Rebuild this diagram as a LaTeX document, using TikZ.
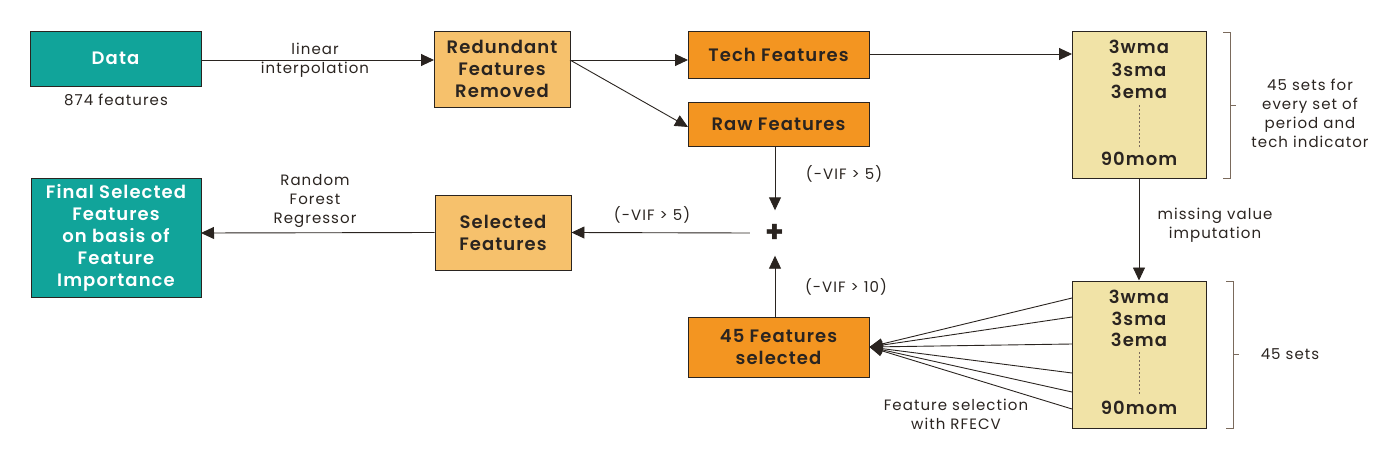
\documentclass[tikz,border=0pt]{standalone}
\usepackage{fontspec}
\setmainfont{Poppins}[LetterSpace=7]
\newfontfamily\boxfont{Poppins SemiBold}[LetterSpace=6]
\usetikzlibrary{arrows.meta,calc}
\definecolor{tealc}{HTML}{11A49A}
\definecolor{orng}{HTML}{F39521}
\definecolor{lorng}{HTML}{F6C16C}
\definecolor{lyel}{HTML}{F1E3A7}
\definecolor{txt}{HTML}{2A2420}
\definecolor{brk}{HTML}{7A6A5C}
\begin{document}
\begin{tikzpicture}[x=1pt,y=1pt,
  boxbase/.style={draw=txt,line width=0.9pt,align=center,inner sep=0pt,font=\boxfont\fontsize{18}{22}\selectfont},
  tealbox/.style={boxbase,fill=tealc,text=white},
  orbox/.style={boxbase,fill=orng,text=txt},
  lobox/.style={boxbase,fill=lorng,text=txt},
  setbox/.style={draw=txt,line width=1pt,fill=lyel,inner sep=0pt},
  settxt/.style={font=\boxfont\fontsize{18}{20}\selectfont,text=txt,inner sep=0pt},
  lbl/.style={font=\fontsize{15}{19}\selectfont,text=txt,align=center,inner sep=0pt},
  arrw/.style={draw=txt,line width=0.9pt,-{Triangle[length=13pt,width=12pt]}},
  fanline/.style={draw=txt,line width=0.9pt,-{Triangle[length=13pt,width=11pt]}},
  brline/.style={draw=brk,line width=0.6pt}
]
\useasboundingbox (0,0) rectangle (1400,-460);

% nodes
\node[tealbox,minimum width=171,minimum height=55] (data) at (115.5,-58.5) {Data};
\node[lbl] (n874) at (116,-100) {874 features};
\node[lobox,minimum width=136,minimum height=76] (red) at (502,-69) {Redundant\\Features\\Removed};
\node[orbox,minimum width=181,minimum height=47] (tech) at (778.5,-54.5) {Tech Features};
\node[orbox,minimum width=181,minimum height=44] (raw) at (778.5,-124) {Raw Features};

\node[setbox,minimum width=134,minimum height=146] (box1) at (1139,-105) {};
\node[settxt] (b1a) at (1139,-47) {3wma};
\node[settxt] (b1b) at (1139,-70) {3sma};
\node[settxt] (b1c) at (1139,-92) {3ema};
\node[settxt] (b1d) at (1139,-159) {90mom};
\coordinate (d1s) at (1139,-105);
\coordinate (d1e) at (1139,-147);
\draw[brline,dash pattern=on 2pt off 2pt] (d1s) -- (d1e);

\node[tealbox,minimum width=170,minimum height=119] (final) at (116,-237.5) {Final Selected\\Features\\on basis of\\Feature\\Importance};
\node[lobox,minimum width=136,minimum height=75] (sel) at (503,-232.5) {Selected\\Features};
\node[inner sep=0pt,minimum width=50,minimum height=45,font=\fontsize{30}{30}\selectfont\bfseries,text=txt] (plus) at (775,-233) {+};
\node[orbox,minimum width=181,minimum height=60] (f45) at (778.5,-347) {45 Features\\selected};

\node[setbox,minimum width=134,minimum height=147] (box2) at (1139,-354.5) {};
\node[settxt] (b2a) at (1139,-297) {3wma};
\node[settxt] (b2b) at (1139,-319) {3sma};
\node[settxt] (b2c) at (1139,-340) {3ema};
\node[settxt] (b2d) at (1139,-408) {90mom};
\coordinate (d2s) at (1139,-352);
\coordinate (d2e) at (1139,-395);
\draw[brline,dash pattern=on 2pt off 2pt] (d2s) -- (d2e);

% labels
\node[lbl] (lin) at (315,-60) {linear\\interpolation};
\node[lbl] (rfr) at (315,-201) {Random\\Forest\\Regressor};
\node[lbl] (vif1) at (844,-174) {(-VIF > 5)};
\node[lbl] (vif2) at (652,-215) {(-VIF > 5)};
\node[lbl] (vif3) at (846,-287) {(-VIF > 10)};
\node[lbl] (miss) at (1215,-225) {missing value\\imputation};
\node[lbl] (fsel) at (956,-414.5) {Feature selection\\with RFECV};
\node[lbl] (s45a) at (1310,-113.5) {45 sets for\\every set of\\period and\\tech indicator};
\node[lbl] (s45b) at (1290,-354) {45 sets};

% brackets
\draw[brline] (1223,-32) -- (1230,-32) -- (1230,-178) -- (1223,-178);
\draw[brline] (1230,-105) -- (1236,-105);
\draw[brline] (1226,-281) -- (1233,-281) -- (1233,-428) -- (1226,-428);
\draw[brline] (1233,-354) -- (1239,-354);

% connector end points
\coordinate (p1) at (201,-60);
\coordinate (p2) at (434,-60);
\coordinate (p3) at (570,-60);
\coordinate (p4) at (688,-60);
\coordinate (p5) at (688,-127);
\coordinate (p6) at (869,-54);
\coordinate (p7) at (1072,-54);
\coordinate (p8) at (775,-146);
\coordinate (p9) at (775,-317);
\coordinate (p10) at (201,-233);

% connectors
\draw[arrw] (p1) -- (p2);
\draw[arrw] (p3) -- (p4);
\draw[arrw] (p3) -- (p5);
\draw[arrw] (p6) -- (p7);
\draw[arrw] (p8) -- (plus.north);
\draw[arrw] (p9) -- (plus.south);
\draw[arrw] (plus.west) -- (sel.east);
\draw[arrw] (sel.west) -- (p10);
\draw[arrw] (box1.south) -- (box2.north);

\coordinate (fa) at (1072,-298);
\coordinate (fb) at (1072,-317);
\coordinate (fc) at (1072,-344);
\coordinate (fd) at (1072,-373);
\coordinate (fe) at (1072,-392);
\coordinate (ff) at (1072,-409);
\foreach \nm in {fa,fb,fc,fd,fe,ff}{
  \draw[fanline] (\nm) -- (f45.east);
}
\end{tikzpicture}
\end{document}
